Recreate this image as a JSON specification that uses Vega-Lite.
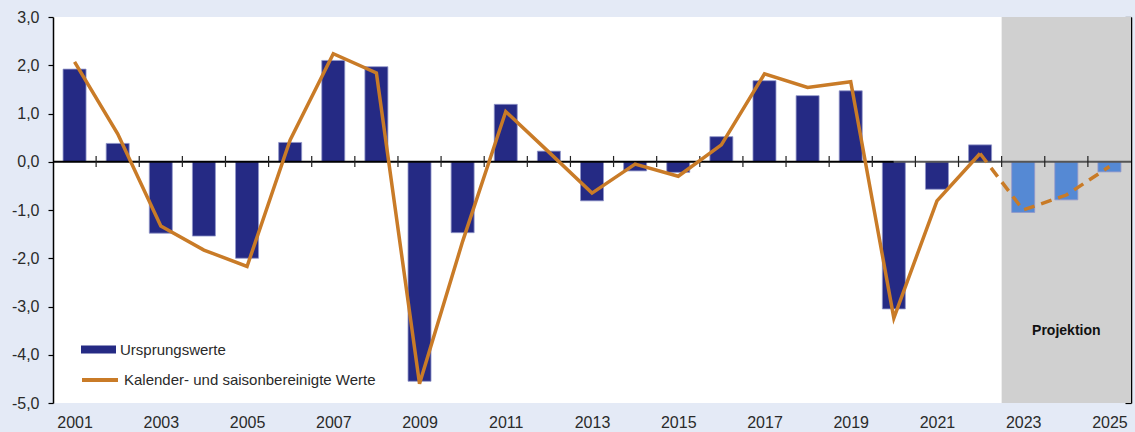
{
  "$schema": "https://vega.github.io/schema/vega-lite/v6.json",
  "width": 1078,
  "height": 386,
  "autosize": {"type": "none"},
  "padding": {"left": 53, "top": 17, "right": 4, "bottom": 29},
  "background": "#e4eaf6",
  "config": {
    "view": {"fill": "#ffffff", "stroke": null},
    "font": "Liberation Sans",
    "locale": {"number": {"decimal": ",", "thousands": ".", "grouping": [3], "currency": ["", " €"], "minus": "-"}},
    "legend": {"padding": 0, "offset": 0}
  },
  "datasets": {
    "main": [
      {"year": 2001, "orig": 1.92, "adj": 2.07},
      {"year": 2002, "orig": 0.38, "adj": 0.58},
      {"year": 2003, "orig": -1.48, "adj": -1.33},
      {"year": 2004, "orig": -1.54, "adj": -1.83},
      {"year": 2005, "orig": -2.0, "adj": -2.17},
      {"year": 2006, "orig": 0.4, "adj": 0.45},
      {"year": 2007, "orig": 2.1, "adj": 2.24},
      {"year": 2008, "orig": 1.97, "adj": 1.84},
      {"year": 2009, "orig": -4.55, "adj": -4.6},
      {"year": 2010, "orig": -1.47, "adj": -1.65},
      {"year": 2011, "orig": 1.19, "adj": 1.04},
      {"year": 2012, "orig": 0.22, "adj": 0.2},
      {"year": 2013, "orig": -0.81, "adj": -0.65},
      {"year": 2014, "orig": -0.19, "adj": -0.05},
      {"year": 2015, "orig": -0.22, "adj": -0.3},
      {"year": 2016, "orig": 0.52, "adj": 0.35},
      {"year": 2017, "orig": 1.68, "adj": 1.82},
      {"year": 2018, "orig": 1.37, "adj": 1.54},
      {"year": 2019, "orig": 1.47, "adj": 1.66},
      {"year": 2020, "orig": -3.05, "adj": -3.24},
      {"year": 2021, "orig": -0.57, "adj": -0.81},
      {"year": 2022, "orig": 0.35, "adj": 0.17},
      {"year": 2023, "orig": -1.05, "adj": -1.0},
      {"year": 2024, "orig": -0.79, "adj": -0.69},
      {"year": 2025, "orig": -0.21, "adj": -0.1}
    ],
    "bounds": [
      {"year": 2001.5}, {"year": 2002.5}, {"year": 2003.5}, {"year": 2004.5}, {"year": 2005.5},
      {"year": 2006.5}, {"year": 2007.5}, {"year": 2008.5}, {"year": 2009.5}, {"year": 2010.5},
      {"year": 2011.5}, {"year": 2012.5}, {"year": 2013.5}, {"year": 2014.5}, {"year": 2015.5},
      {"year": 2016.5}, {"year": 2017.5}, {"year": 2018.5}, {"year": 2019.5}, {"year": 2020.5},
      {"year": 2021.5}, {"year": 2022.5}, {"year": 2023.5}, {"year": 2024.5}
    ],
    "labels": [{"year": 2024, "value": -3.5, "text": "Projektion"}]
  },
  "resolve": {"axis": {"y": "independent"}},
  "layer": [
    {
      "data": {"values": [{"a": 1}]},
      "mark": {"type": "rect", "color": "#d0d0d0"},
      "encoding": {
        "x": {"datum": 2022.5, "type": "quantitative",
              "scale": {"domain": [2000.5, 2025.5], "nice": false, "zero": false, "padding": 0},
              "axis": {"orient": "bottom", "title": null, "values": [2001, 2003, 2005, 2007, 2009, 2011, 2013, 2015, 2017, 2019, 2021, 2023, 2025],
                       "format": "d", "ticks": false, "domain": false, "grid": false, "labelPadding": 11,
                       "labelFontSize": 16, "labelColor": "#2a2a2a", "labelFont": "Liberation Sans", "labelFlush": false}},
        "x2": {"datum": 2025.5},
        "y": {"datum": -5, "type": "quantitative",
              "scale": {"domain": [-5, 3], "nice": false, "zero": false},
              "axis": {"orient": "right", "title": null, "labels": false, "values": [-5, -4, -3, -2, -1, 0, 1, 2, 3],
                       "domainColor": "#000000", "domainWidth": 1.5, "tickColor": "#000000", "tickSize": -6, "tickWidth": 1.2, "grid": false}},
        "y2": {"datum": 3}
      }
    },
    {
      "data": {"name": "main"},
      "mark": {"type": "bar", "size": 23, "stroke": "#9297c9", "strokeWidth": 0.8},
      "encoding": {
        "x": {"field": "year", "type": "quantitative", "title": null},
        "y": {"field": "orig", "type": "quantitative",
              "axis": {"orient": "left", "title": null, "values": [-5, -4, -3, -2, -1, 0, 1, 2, 3], "format": ".1f",
                       "domainColor": "#000000", "domainWidth": 1.5, "tickColor": "#000000", "tickSize": 5, "tickWidth": 1.2,
                       "labelPadding": 9, "labelFontSize": 16, "labelColor": "#2a2a2a", "grid": false}},
        "y2": {"datum": 0},
        "fill": {"datum": "Ursprungswerte", "type": "nominal",
                 "scale": {"range": ["#252a84"]},
                 "condition": {"test": "datum.year > 2022", "value": "#5589d4"},
                 "legend": {"title": null, "orient": "none", "legendX": 28, "legendY": 315,
                            "symbolType": "M-1,-0.23H1V0.23H-1Z", "symbolSize": 1225, "symbolStrokeWidth": 0,
                            "labelFontSize": 15, "labelColor": "#2a2a2a", "labelOffset": 4, "labelLimit": 0}}
      }
    },
    {
      "data": {"values": [{"a": 1}]},
      "mark": {"type": "rule", "color": "#000000", "strokeWidth": 2},
      "encoding": {
        "x": {"datum": 2000.5, "type": "quantitative"},
        "x2": {"datum": 2020.0},
        "y": {"datum": 0, "type": "quantitative", "axis": null}
      }
    },
    {
      "data": {"values": [{"a": 1}]},
      "mark": {"type": "rule", "color": "#555555", "strokeWidth": 2},
      "encoding": {
        "x": {"datum": 2020.0, "type": "quantitative"},
        "x2": {"datum": 2025.5},
        "y": {"datum": 0, "type": "quantitative", "axis": null}
      }
    },
    {
      "data": {"name": "bounds"},
      "mark": {"type": "rule", "color": "#222222", "strokeWidth": 1.2},
      "encoding": {
        "x": {"field": "year", "type": "quantitative", "title": null},
        "y": {"datum": -0.11, "type": "quantitative", "axis": null},
        "y2": {"datum": 0.12}
      }
    },
    {
      "data": {"name": "main"},
      "transform": [{"filter": "datum.year <= 2022"}],
      "mark": {"type": "line", "strokeWidth": 3.5, "strokeJoin": "miter"},
      "encoding": {
        "x": {"field": "year", "type": "quantitative", "title": null},
        "y": {"field": "adj", "type": "quantitative", "axis": null},
        "stroke": {"datum": "Kalender- und saisonbereinigte Werte", "type": "nominal",
                   "scale": {"range": ["#c97b27"]},
                   "legend": {"title": null, "orient": "none", "legendX": 27, "legendY": 343,
                              "symbolType": "stroke", "symbolSize": 1296, "symbolStrokeWidth": 4,
                              "labelFontSize": 15, "labelColor": "#2a2a2a", "labelOffset": 4, "labelLimit": 0}}
      }
    },
    {
      "data": {"name": "main"},
      "transform": [{"filter": "datum.year >= 2022"}],
      "mark": {"type": "line", "strokeWidth": 3.5, "strokeDash": [11, 7]},
      "encoding": {
        "x": {"field": "year", "type": "quantitative", "title": null},
        "y": {"field": "adj", "type": "quantitative", "axis": null},
        "stroke": {"datum": "Kalender- und saisonbereinigte Werte", "type": "nominal"}
      }
    },
    {
      "data": {"name": "labels"},
      "mark": {"type": "text", "fontSize": 14, "fontWeight": "bold", "color": "#111111", "align": "center", "baseline": "middle"},
      "encoding": {
        "x": {"field": "year", "type": "quantitative", "title": null},
        "y": {"field": "value", "type": "quantitative", "axis": null},
        "text": {"field": "text"}
      }
    }
  ]
}
